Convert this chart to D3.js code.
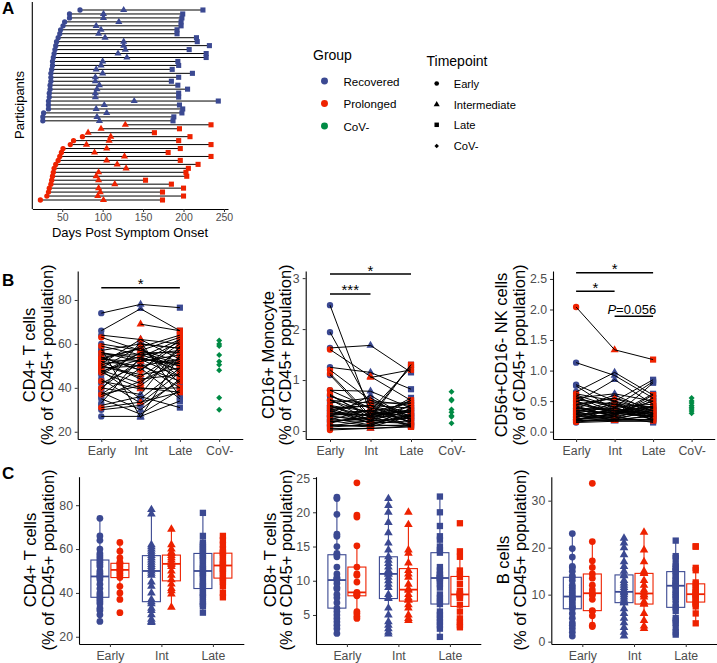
<!DOCTYPE html>
<html><head><meta charset="utf-8">
<script src="https://cdn.jsdelivr.net/npm/d3@7"></script>
<style>body{margin:0;background:#fff} svg text{font-family:"Liberation Sans",Arial,sans-serif}</style>
</head><body><svg id="c" width="717" height="663"></svg>
<script>
// ---------- DATA ----------
// Panel A: days post symptom onset per participant (rows top→bottom)
const tlRecEarly = [72,59,59,53,51,48,47,45,43,42,41,40,39,38,38,37,36,36,36,35,35,34,34,33,33,33,27,26,26];
const tlRecInt   = [126,101,101,120,92,98,95,103,126,126,128,119,130,100,98,92,100,91,91,96,93,91,91,139,102,92,105,93,96];
const tlRecLate  = [224,199,198,197,197,192,192,216,217,232,207,228,228,193,194,186,211,194,185,193,205,194,194,243,195,199,198,188,187];
const tlProEarly = [null,null,null,75,64,60,51,49,47,45,42,40,39,38,37,36,34,33,31,23];
const tlProInt   = [128,98,82,110,108,80,105,90,127,105,118,129,95,92,95,115,95,97,94,101];
const tlProLate  = [234,195,164,208,194,234,196,181,234,196,218,206,203,204,153,185,200,174,200,174];
const daysTicks = [50,100,150,200,250];

// Legend
const groupNames = ["Recovered","Prolonged","CoV-"];
const timepointNames = ["Early","Intermediate","Late","CoV-"];

// Panel B / C categories
const catsB = ["Early","Int","Late","CoV-"];
const catsC = ["Early","Int","Late"];

// CD4+ T cells (% of CD45+)
const cd4RecEarly = [74,66,64,60,58,57,56,55,54,53,52,50,49,48,47.5,47,46,44,42,40,39,38,37,36,35,33,32,30,27];
const cd4RecInt   = [78,76,62,57,26.5,60,52,55,48,58,50,45,59,35,53,40,56,33,51,37,61,30,49,43,28,54,36,32,27];
const cd4RecLate  = [76.5,66,60,63,55,58,61,50,62,45,53,57,42,49,51,38,56,47,40,59,36,44,35,52,39,48,31,43,34];
const cd4ProEarly = [null,null,null,63,59,56,54,53.5,53,52,51,50.5,50,49,48,47,43,40,37,31];
const cd4ProInt   = [69,60,58.5,57,55,53.5,48,58,52,44,62,54,46,50,42,56,39.5,53,41,33.5];
const cd4ProLate  = [66,58,64,52,57,50,60,47,55,46,53,62,49,43,58.5,51,40,45,54,38];
const cd4Neg      = [61.5,60,59,55,52,50.5,48,35.5,30];
const cd4Ticks    = [20,40,60,80];

// CD16+ Monocyte
const monoRecEarly = [2.47,1.94,1.63,1.25,1.1,0.8,0.7,0.68,0.62,0.6,0.55,0.5,0.48,0.45,0.42,0.4,0.38,0.35,0.32,0.3,0.28,0.25,0.22,0.2,0.18,0.15,0.12,0.1,0.05];
const monoRecInt   = [0.35,0.5,1.68,1.15,0.25,0.78,0.3,0.45,0.2,0.55,0.65,0.38,0.28,0.15,0.5,0.22,0.6,0.4,0.32,0.18,0.7,0.12,0.42,0.1,0.26,0.35,0.08,0.2,0.05];
const monoRecLate  = [0.4,0.3,1.15,0.82,0.5,0.45,1.3,0.25,0.6,0.35,0.2,0.55,0.42,0.3,0.15,0.65,0.28,0.1,0.38,0.5,0.22,0.33,0.18,0.45,0.12,0.08,0.3,0.25,0.1];
const monoProEarly = [null,null,null,1.6,1.13,1.2,0.8,0.72,0.6,0.5,0.45,0.4,0.35,0.3,0.28,0.22,0.18,0.12,0.08,0.02];
const monoProInt   = [1.05,0.55,0.4,1.07,0.3,0.6,0.45,0.25,0.35,0.2,0.5,0.15,0.3,0.4,0.22,0.18,0.28,0.1,0.12,0.05];
const monoProLate  = [1.2,0.55,1.25,0.6,0.4,0.5,0.35,1.3,0.3,0.25,0.45,0.2,0.6,0.18,0.38,0.15,0.28,0.12,0.1,0.08];
const monoNeg      = [0.77,0.62,0.6,0.42,0.37,0.3,0.28,0.15];
const monoTicks    = [0,1,2,3];

// CD56+CD16- NK cells
const nkRecEarly = [1.13,0.77,0.75,0.65,0.6,0.58,0.55,0.52,0.5,0.48,0.45,0.43,0.4,0.38,0.37,0.35,0.33,0.32,0.3,0.28,0.27,0.25,0.23,0.22,0.2,0.2,0.18,0.17,0.15];
const nkRecInt   = [0.92,0.5,0.35,0.97,0.4,0.3,0.62,0.45,0.28,0.85,0.33,0.55,0.25,0.6,0.38,0.3,0.5,0.22,0.42,0.35,0.2,0.27,0.48,0.18,0.3,0.25,0.2,0.4,0.17];
const nkRecLate  = [0.55,0.85,0.4,0.6,0.82,0.35,0.5,0.3,0.62,0.45,0.25,0.38,0.8,0.33,0.28,0.5,0.22,0.42,0.3,0.2,0.35,0.55,0.18,0.27,0.4,0.15,0.25,0.2,0.17];
const nkProEarly = [null,null,null,2.04,0.62,0.55,0.5,0.45,0.42,0.38,0.35,0.32,0.3,0.28,0.25,0.23,0.2,0.18,0.2,0.16];
const nkProInt   = [0.45,0.35,0.3,1.34,0.5,0.4,0.3,0.55,0.25,0.35,0.28,0.45,0.22,0.32,0.2,0.38,0.25,0.18,0.3,0.2];
const nkProLate  = [0.4,0.3,0.5,1.18,0.35,0.45,0.25,0.3,0.6,0.28,0.38,0.22,0.32,0.42,0.2,0.27,0.35,0.18,0.25,0.2];
const nkNeg      = [0.55,0.5,0.47,0.43,0.4,0.37,0.34,0.3];
const nkTicks    = [0,0.5,1,1.5,2,2.5];

// CD8+ T cells
const cd8RecEarly = [22.2,22,19.7,16.8,16.5,15,14,13.8,13.5,12,11,10.5,10.3,10.2,10.1,9.6,9,8.8,8,7.5,6.8,6,5.5,5,4.5,4,3.5,3,2.3];
const cd8RecInt   = [22,21,20,18.5,17,15.5,14.5,13.5,13,12.5,12,11.5,11.2,11,11,10.5,10,9.5,9,8,7.5,7.4,6,5,4,3.5,3,2.5,2.2];
const cd8RecLate  = [22.3,20,18,16.5,16,15,14.5,14.1,12,11.5,11,10.8,10.5,10.4,10.4,10,9.5,9,8,7.5,7,6.6,5.5,5,4.5,4,3.5,3,1.8];
const cd8ProEarly = [24.3,19.6,19.3,15.1,12,11,10.8,9.8,8.3,8.2,8,7.9,7.8,5.5,5.2,4.8,4.5];
const cd8ProInt   = [20,18.2,14.5,14,12.6,11.5,11,10.5,9.5,8.8,8.6,8,7.5,7.2,7.2,6.5,6,5,4.5,4.2];
const cd8ProLate  = [18.4,14.3,13.5,11.5,11,10.5,9.5,8.5,8.2,8,8,7.8,7.5,7.5,6.5,5.5,4.5,4,3.5,3.2];
const cd8Ticks    = [5,10,15,20,25];

// B cells
const bRecEarly = [23,19.8,18,16,15.8,15,14,13.7,13,12,11.5,11,10.5,10,9.6,9.2,9,8.5,8,7.5,7.3,7,6,5,4,3.5,2.8,2,1.2];
const bRecInt   = [22,21,20,18.5,17,16,15,14.2,14,13,12.5,12,11.5,11,10.6,10.4,10,9.5,9,8.5,8.3,8.3,7,6,5,4,3,2,1.2];
const bRecLate  = [21.5,18.2,17.8,16.5,16,15.5,15,14.9,14,13.5,13,12.5,12.2,12,11.9,11,10.5,10,9.5,9,8,7.3,6.5,5,4.5,4,3,2,1.5];
const bProEarly = [33.7,21.3,17.2,15.8,14.4,13.5,12,11,10.3,10,10,9,6.6,6.5,5.5,3.5,3.2];
const bProInt   = [23.3,19.5,17,15,14.6,14.5,13,12,11,10.5,10,10,9.5,8.5,8,8,6,4.5,3.3,2.8];
const bProLate  = [20.3,20.2,15.7,15.2,12.6,12.2,11.5,11,10.5,10.2,10,9.8,9.5,9,8.5,8.2,8,7.5,6,3.9];
const bTicks    = [0,10,20,30];

// ---------- STYLE ----------
const BLUE="#3B4992", RED="#EE2200", GREEN="#008B45";
const FONT="Liberation Sans, Arial, sans-serif";
const svg=d3.select("#c");

function symPath(kind,size){
  const t={circle:d3.symbolCircle,triangle:d3.symbolTriangle,square:d3.symbolSquare,diamond:d3.symbolSquare}[kind];
  return d3.symbol().type(t).size(size)();
}
function drawSym(g,kind,size,x,y,fill){
  const p=g.append("path").attr("d",symPath(kind,size)).attr("fill",fill);
  p.attr("transform",`translate(${x},${y})`+(kind==="diamond"?" rotate(45)":""));
  return p;
}
function styleAxis(g,fs){
  g.attr("font-family",FONT);
  g.select(".domain").attr("stroke","#000").attr("stroke-width",1.1);
  g.selectAll(".tick line").attr("stroke","#333").attr("stroke-width",1);
  g.selectAll(".tick text").attr("fill","#4D4D4D").attr("font-size",fs).attr("font-family",FONT);
}
function vtitle(lines,xs,cy,fs){
  lines.forEach((t,i)=>{
    svg.append("text").attr("transform",`translate(${xs[i]},${cy}) rotate(-90)`)
      .attr("text-anchor","middle").attr("dominant-baseline","central")
      .attr("font-size",fs).attr("fill","#000").text(t);
  });
}
function letter(t,x,y){
  svg.append("text").attr("x",x).attr("y",y).attr("font-size",17).attr("font-weight","bold").attr("fill","#000").text(t);
}

// ---------- PANEL A ----------
(function(){
  const g=svg.append("g");
  const rows=[];
  tlRecEarly.forEach((_,i)=>rows.push({c:BLUE,v:[tlRecEarly[i],tlRecInt[i],tlRecLate[i]]}));
  tlProEarly.forEach((_,i)=>rows.push({c:RED,v:[tlProEarly[i],tlProInt[i],tlProLate[i]]}));
  const x=d3.scaleLinear().domain([13,255]).range([32.3,228]);
  const y=d3.scalePoint().domain(d3.range(rows.length)).range([10,200]);
  rows.forEach((r,i)=>{
    const vals=r.v.filter(v=>v!=null);
    g.append("line").attr("x1",x(d3.min(vals))).attr("x2",x(d3.max(vals)))
      .attr("y1",y(i)).attr("y2",y(i)).attr("stroke","#000").attr("stroke-width",1);
  });
  const kinds=["circle","triangle","square"], sizes=[22,22,26];
  rows.forEach((r,i)=>{
    r.v.forEach((v,k)=>{ if(v!=null) drawSym(g,kinds[k],sizes[k],x(v),y(i),r.c); });
  });
  const ax=g.append("g").attr("transform","translate(0,209)")
    .call(d3.axisBottom(x).tickValues(daysTicks).tickSize(3).tickSizeOuter(0).tickPadding(2));
  styleAxis(ax,10.5);
  g.append("line").attr("x1",32.3).attr("x2",32.3).attr("y1",2).attr("y2",209).attr("stroke","#000").attr("stroke-width",1.1);
  svg.append("text").attr("x",130).attr("y",237).attr("text-anchor","middle").attr("font-size",13).text("Days Post Symptom Onset");
  vtitle(["Participants"],[19],105,13);
  letter("A",2,14);
})();

// ---------- LEGEND ----------
(function(){
  const g=svg.append("g");
  const gc=[BLUE,RED,GREEN];
  g.append("text").attr("x",313).attr("y",60).attr("font-size",14).text("Group");
  const gy=[81,103.5,126];
  groupNames.forEach((n,i)=>{
    drawSym(g,"circle",38,324.5,gy[i],gc[i]);
    g.append("text").attr("x",343.5).attr("y",gy[i]).attr("dominant-baseline","central").attr("font-size",11.6).text(n);
  });
  g.append("text").attr("x",426.5).attr("y",65.5).attr("font-size",14).text("Timepoint");
  const ty=[83.5,104.5,124.8,146];
  const kinds=["circle","triangle","square","diamond"], sz=[17,16,20,10];
  timepointNames.forEach((n,i)=>{
    drawSym(g,kinds[i],sz[i],436.7,ty[i],"#000");
    g.append("text").attr("x",453.7).attr("y",ty[i]).attr("dominant-baseline","central").attr("font-size",11.2).text(n);
  });
})();

// ---------- PANEL B ----------
function pairedPanel(o){
  const g=svg.append("g");
  const x=d3.scalePoint().domain(catsB).range([o.x0,o.x0+o.step*4.2]).padding(0.6);
  const y=d3.scaleLinear().domain(o.domain).range([439,271]);
  const kinds=["circle","triangle","square"], sizes=[32,28,38];
  const groups=[{d:o.rec,c:BLUE},{d:o.pro,c:RED}];
  groups.forEach(G=>{
    [0,1,2].forEach(k=>{
      G.d[k].forEach(v=>{ if(v!=null) drawSym(g,kinds[k],sizes[k],x(catsB[k]),y(v),G.c); });
    });
  });
  groups.forEach(G=>{
    G.d[0].forEach((_,i)=>{
      const pts=[0,1,2].filter(k=>G.d[k][i]!=null).map(k=>[x(catsB[k]),y(G.d[k][i])]);
      g.append("path").attr("d",d3.line()(pts)).attr("fill","none").attr("stroke","#000").attr("stroke-width",1);
    });
  });
  o.neg.forEach(v=>drawSym(g,"diamond",18,x("CoV-"),y(v),GREEN));
  const ay=g.append("g").attr("transform",`translate(${o.x0},0)`)
    .call(d3.axisLeft(y).tickValues(o.ticks).tickFormat(o.fmt).tickSize(3).tickSizeOuter(0).tickPadding(3));
  styleAxis(ay,12.3);
  const ax=g.append("g").attr("transform","translate(0,439)")
    .call(d3.axisBottom(x).tickSize(3).tickSizeOuter(0).tickPadding(4.5));
  styleAxis(ax,12.3);
  o.sig.forEach(s=>{
    const x1=x(s.a), x2=x(s.b), yy=y(s.y);
    g.append("line").attr("x1",x1).attr("x2",x2).attr("y1",yy).attr("y2",yy).attr("stroke","#000").attr("stroke-width",1.5);
    if(s.p){
      const t=g.append("text").attr("x",(x1+x2)/2-2).attr("y",yy-2.5).attr("text-anchor","middle").attr("font-size",13);
      t.append("tspan").attr("font-style","italic").text("P");
      t.append("tspan").text(s.label);
    } else {
      g.append("text").attr("x",(x1+x2)/2).attr("y",yy+1.5).attr("text-anchor","middle").attr("font-size",15).text(s.label);
    }
  });
  vtitle(o.title,o.tx,355,16.5);
}
pairedPanel({x0:77.7,step:39.3,domain:[16.7,93.2],ticks:cd4Ticks,fmt:d3.format("d"),
  rec:[cd4RecEarly,cd4RecInt,cd4RecLate],pro:[cd4ProEarly,cd4ProInt,cd4ProLate],neg:cd4Neg,
  sig:[{a:"Early",b:"Late",y:85.6,label:"*"}],
  title:["CD4+ T cells","(% of CD45+ population)"],tx:[29,47]});
pairedPanel({x0:305.7,step:40.5,domain:[-0.157,3.14],ticks:monoTicks,fmt:d3.format("d"),
  rec:[monoRecEarly,monoRecInt,monoRecLate],pro:[monoProEarly,monoProInt,monoProLate],neg:monoNeg,
  sig:[{a:"Early",b:"Late",y:3.08,label:"*"},{a:"Early",b:"Int",y:2.69,label:"***"}],
  title:["CD16+ Monocyte","(% of CD45+ population)"],tx:[268,285]});
pairedPanel({x0:553,step:38.5,domain:[-0.12,2.63],ticks:nkTicks,fmt:d3.format(".1f"),
  rec:[nkRecEarly,nkRecInt,nkRecLate],pro:[nkProEarly,nkProInt,nkProLate],neg:nkNeg,
  sig:[{a:"Early",b:"Late",y:2.6,label:"*"},{a:"Early",b:"Int",y:2.3,label:"*"},{a:"Int",b:"Late",y:1.89,label:"=0.056",p:true}],
  title:["CD56+CD16- NK cells","(% of CD45+ population)"],tx:[501,519]});
letter("B",2,286);

// ---------- PANEL C ----------
function boxPanel(o){
  const g=svg.append("g");
  const x=d3.scalePoint().domain(catsC).range([o.x0,o.x0+o.step*3.2]).padding(0.6);
  const y=d3.scaleLinear().domain(o.domain).range([644,476.7]);
  const kinds=["circle","triangle","square"], sizes=[36,32,40];
  [{d:o.rec,c:BLUE,off:-10},{d:o.pro,c:RED,off:10}].forEach(G=>{
    catsC.forEach((cat,k)=>{
      const vals=G.d[k].filter(v=>v!=null).slice().sort(d3.ascending);
      const q1=d3.quantile(vals,.25), md=d3.quantile(vals,.5), q3=d3.quantile(vals,.75), iqr=q3-q1;
      const lo=d3.min(vals.filter(v=>v>=q1-1.5*iqr)), hi=d3.max(vals.filter(v=>v<=q3+1.5*iqr));
      const cx=x(cat)+G.off, bw=18;
      g.append("line").attr("x1",cx).attr("x2",cx).attr("y1",y(q3)).attr("y2",y(hi)).attr("stroke",G.c).attr("stroke-width",1.1);
      g.append("line").attr("x1",cx).attr("x2",cx).attr("y1",y(q1)).attr("y2",y(lo)).attr("stroke",G.c).attr("stroke-width",1.1);
      g.append("rect").attr("x",cx-bw/2).attr("y",y(q3)).attr("width",bw).attr("height",y(q1)-y(q3))
        .attr("fill","#fff").attr("stroke",G.c).attr("stroke-width",1.1);
      g.append("line").attr("x1",cx-bw/2).attr("x2",cx+bw/2).attr("y1",y(md)).attr("y2",y(md)).attr("stroke",G.c).attr("stroke-width",1.8);
      vals.forEach(v=>drawSym(g,kinds[k],sizes[k],cx,y(v),G.c));
    });
  });
  const ay=g.append("g").attr("transform",`translate(${o.x0},0)`)
    .call(d3.axisLeft(y).tickValues(o.ticks).tickFormat(d3.format("d")).tickSize(3).tickSizeOuter(0).tickPadding(3));
  styleAxis(ay,12.3);
  const ax=g.append("g").attr("transform","translate(0,644)")
    .call(d3.axisBottom(x).tickSize(3).tickSizeOuter(0).tickPadding(4.5));
  styleAxis(ax,12.3);
  vtitle(o.title,o.tx,560,16.5);
}
boxPanel({x0:79,step:51.5,domain:[16.7,93],ticks:cd4Ticks,
  rec:[cd4RecEarly,cd4RecInt,cd4RecLate],pro:[cd4ProEarly,cd4ProInt,cd4ProLate],
  title:["CD4+ T cells","(% of CD45+ population)"],tx:[30,48]});
boxPanel({x0:316,step:51.5,domain:[0.76,25.2],ticks:cd8Ticks,
  rec:[cd8RecEarly,cd8RecInt,cd8RecLate],pro:[cd8ProEarly,cd8ProInt,cd8ProLate],
  title:["CD8+ T cells","(% of CD45+ population)"],tx:[270,286]});
boxPanel({x0:551.3,step:51.7,domain:[-0.5,35.1],ticks:bTicks,
  rec:[bRecEarly,bRecInt,bRecLate],pro:[bProEarly,bProInt,bProLate],
  title:["B cells","(% of CD45+ population)"],tx:[503,520]});
letter("C",2,479);
</script></body></html>
